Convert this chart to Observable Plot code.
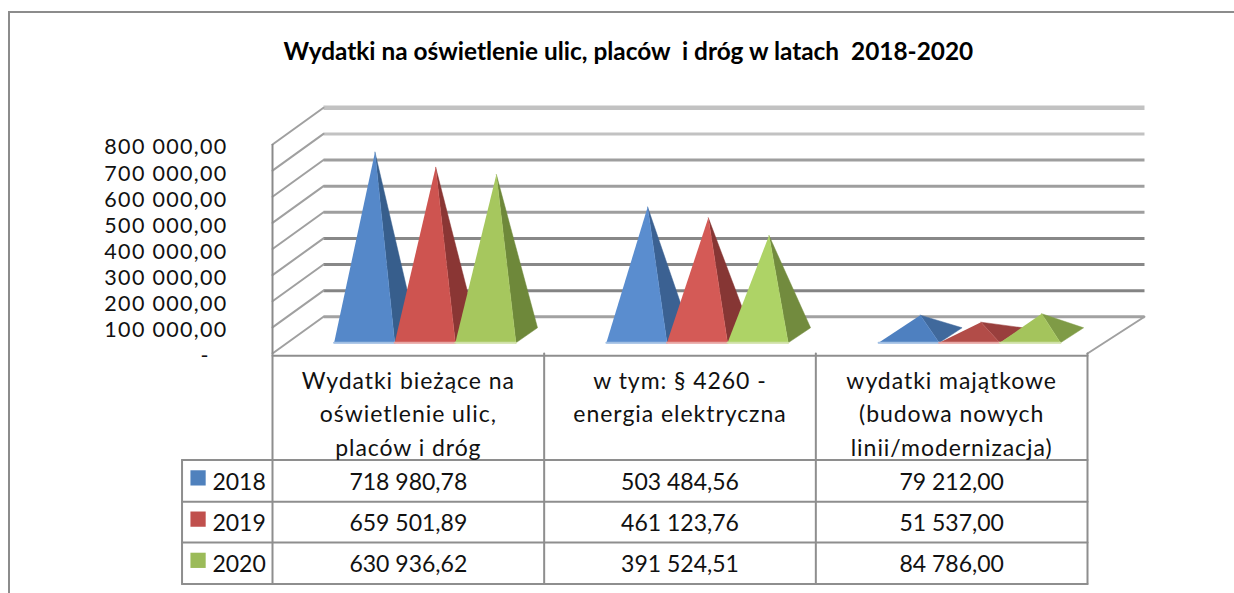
<!DOCTYPE html>
<html lang="pl"><head><meta charset="utf-8">
<script src="https://cdn.jsdelivr.net/npm/d3@7"></script>
<script src="https://cdn.jsdelivr.net/npm/@observablehq/plot@0.6"></script>
<style>
html,body{margin:0;padding:0;background:#fff;overflow:hidden}
#wrap{position:relative;width:1234px;height:593px;overflow:hidden}
#wrap svg{display:block;position:absolute;left:0;top:0;background:transparent}
#frame{position:absolute;left:8px;top:11px;right:0;bottom:-4px;border-left:2px solid #8c8c8c;border-top:2px solid #8c8c8c}
.hdr text, text.hdr{letter-spacing:0.95px}
g[aria-label="y-axis tick label"] text{letter-spacing:1.3px}
</style></head><body>
<div id="wrap"><div id="frame"></div></div>
<script>
const title = "Wydatki na oświetlenie ulic, placów  i dróg w latach  2018-2020";
const categories = ["Wydatki bieżące na\noświetlenie ulic,\nplaców i dróg", "w tym: § 4260 -\nenergia elektryczna", "wydatki majątkowe\n(budowa nowych\nlinii/modernizacja)"];
const years = ["2018", "2019", "2020"];
const values2018 = [718980.78, 503484.56, 79212.00];
const values2019 = [659501.89, 461123.76, 51537.00];
const values2020 = [630936.62, 391524.51, 84786.00];
const seriesValues = [values2018, values2019, values2020];
const yTicks = [0, 100000, 200000, 300000, 400000, 500000, 600000, 700000, 800000];
const gridColors = ["#a2a2a2", "#848484", "#888888", "#888888", "#9e9e9e", "#9e9e9e", "#9e9e9e", "#c2c2c2", "#c2c2c2"];
const gridWidths = [3, 3, 3, 3, 3, 3, 3, 3, 4.5];
const legendColors = ["#4f81bd", "#c0504d", "#9bbb59"];
const frontColors = [["#5588c9", "#ce5450", "#a6c75e"], ["#5a8dcf", "#d45a56", "#aed366"], ["#4e80c0", "#b24c48", "#a4c45c"]];
const sideColors = [["#375e8c", "#8a3634", "#6e883a"], ["#3b6192", "#863634", "#728b3e"], ["#40699c", "#993f3d", "#7f9b46"]];
const edgeColors = ["#a0bfe4", "#e8a6a4", "#d0e1a8"];
const rowBoundaries = [-8800, -407300, -567000, -723000, -882400];
const columnEdges = [0, 1, 2, 3];

const pxPerCat = 271.7, pxPer100k = 26.1;
const depthAt = (c, v, d) => ({x: c + d * (51 + 2 * c) / pxPerCat, y: v + d * 36.7 / pxPer100k * 100000});
const fmt = d3.formatLocale({decimal: ",", thousands: " ", grouping: [3], currency: ["", ""]}).format(",.2f");
const color = "#111";
const fs = 23;

const grid = yTicks.flatMap((v, i) => [
  {id: i, ...depthAt(0, v, 1)}, {id: i, ...depthAt(3, v, 1)}
].map(p => ({...p, c: gridColors[i], w: gridWidths[i]})));
const diagonals = yTicks.flatMap((v, i) => [{id: i, ...depthAt(0, v, 0)}, {id: i, ...depthAt(0, v, 1)}]);
const floorRight = [depthAt(3, 0, 0), depthAt(3, 0, 1)];

const barStart = 0.172, barW = 0.2226, dFront = 0.29, dBack = 0.70, dApex = 0.495, apexFactor = 0.975;
const faces = [];
categories.forEach((_, ci) => years.forEach((_, si) => {
  const x0 = ci + barStart + si * barW, x1 = x0 + barW, xm = x0 + barW / 2;
  const v = seriesValues[si][ci] * apexFactor;
  const apex = depthAt(xm, v, dApex);
  const a = depthAt(x0, 0, dFront), b = depthAt(x1, 0, dFront), r = depthAt(x1, 0, dBack);
  const side = `s${ci}${si}`, front = `f${ci}${si}`;
  [b, r, apex].forEach(p => faces.push({...p, id: side, col: sideColors[ci][si]}));
  [a, b, apex].forEach(p => faces.push({...p, id: front, col: frontColors[ci][si]}));
  [a, b].forEach(p => faces.push({...p, id: `e${ci}${si}`, col: edgeColors[si], edge: true}));
}));
const solid = faces.filter(d => !d.edge), strips = faces.filter(d => d.edge);

const legendX = -0.274, yearX = -0.123;
const rowCenter = i => (rowBoundaries[i + 1] + rowBoundaries[i + 2]) / 2;
const tableCells = [];
years.forEach((yr, si) => categories.forEach((_, ci) => tableCells.push({x: ci + 0.5, y: rowCenter(si), t: fmt(seriesValues[si][ci])})));
const yearCells = years.map((yr, si) => ({x: yearX, y: rowCenter(si), t: yr}));
const swatches = years.map((yr, si) => ({x: legendX, y: rowCenter(si) + 11000, c: legendColors[si]}));

const tableLine = "#8e8e8e";
const hLines = [
  {b: 0, from: 0}, {b: 1, from: legendX - 0.059}, {b: 2, from: legendX - 0.059}, {b: 3, from: legendX - 0.059}, {b: 4, from: legendX - 0.059}
].flatMap(({b, from}) => [{id: b, x: from, y: rowBoundaries[b]}, {id: b, x: 3, y: rowBoundaries[b]}]);
const vLines = columnEdges.flatMap(c => [{id: c, x: c, y: 0}, {id: c, x: c, y: rowBoundaries[4]}]);
const legendLeft = [{x: legendX - 0.059, y: rowBoundaries[1]}, {x: legendX - 0.059, y: rowBoundaries[4]}];

const chart = Plot.plot({
  width: 1234, height: 593,
  marginLeft: 272, marginRight: 147, marginTop: 144, marginBottom: 240,
  x: {domain: [0, 3], axis: null},
  y: {domain: [0, 800000]},
  color: {type: "identity"},
  style: {fontFamily: "Lato, Carlito, sans-serif", overflow: "visible", background: "transparent"},
  marks: [
    Plot.line(grid, {x: "x", y: "y", z: "id", stroke: "c", strokeWidth: "w", strokeLinecap: "butt"}),
    Plot.line(diagonals, {x: "x", y: "y", z: "id", stroke: "#a0a0a0", strokeWidth: 2}),
    Plot.line(floorRight, {x: "x", y: "y", stroke: "#a0a0a0", strokeWidth: 2}),
    Plot.line(solid, {x: "x", y: "y", z: "id", fill: "col", stroke: "col", strokeWidth: 0.5}),
    Plot.line(strips, {x: "x", y: "y", z: "id", stroke: "col", strokeWidth: 2}),
    Plot.axisY({ticks: yTicks, tickSize: 0, tickPadding: 45, label: null, fontSize: 21.5, fill: color, dy: 3,
      tickFormat: v => v === 0 ? "-\u00a0\u00a0\u2009" : fmt(v)}),
    Plot.ruleX([0], {y1: 0, y2: 800000, stroke: "#8a8a8a", strokeWidth: 2}),
    Plot.line(hLines, {x: "x", y: "y", z: "id", stroke: tableLine, strokeWidth: 2}),
    Plot.line(vLines, {x: "x", y: "y", z: "id", stroke: tableLine, strokeWidth: 2}),
    Plot.line(legendLeft, {x: "x", y: "y", stroke: tableLine, strokeWidth: 2}),
    Plot.dot(swatches, {x: "x", y: "y", fill: "c", symbol: "square", r: 8.6, stroke: null}),
    Plot.text(yearCells, {x: "x", y: "y", text: "t", fontSize: fs, fill: color, dy: 1.5}),
    Plot.text(tableCells, {x: "x", y: "y", text: "t", fontSize: fs, fill: color, dy: 1.5}),
    Plot.text(categories, {x: (d, i) => i + 0.5, y: -47000, text: d => d, lineAnchor: "top", lineHeight: 1.44, fontSize: fs, fill: color, className: "hdr"}),
    Plot.text([title], {x: 1.31, y: 1153000, text: d => d, fontSize: 24.4, fontWeight: 700, fill: "#000"})
  ]
});
document.getElementById("wrap").appendChild(chart);
</script></body></html>
